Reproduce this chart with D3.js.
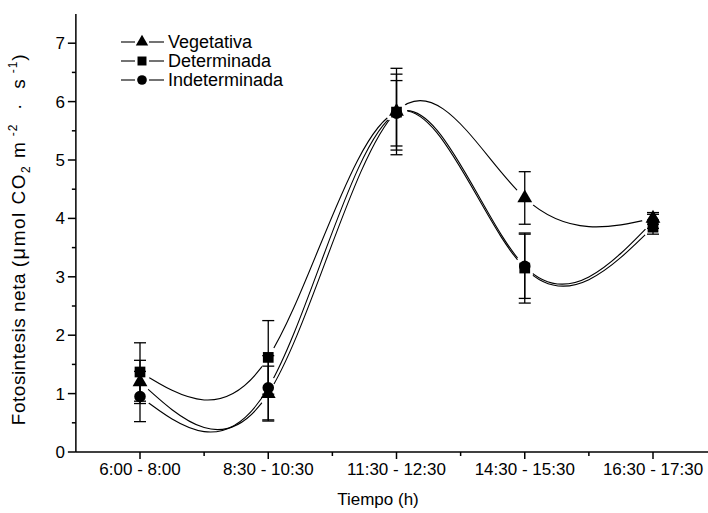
<!DOCTYPE html>
<html>
<head>
<meta charset="utf-8">
<script src="https://cdn.jsdelivr.net/npm/d3@7"></script>
<style>
  html, body { margin: 0; padding: 0; background: #fff; }
  svg { display: block; font-family: "Liberation Sans", Arial, sans-serif; }
  text { white-space: pre; }
</style>
</head>
<body>
<svg id="chart" width="708" height="513"></svg>
<script>
// Time windows along the x axis
const categories = ["6:00 - 8:00", "8:30 - 10:30", "11:30 - 12:30", "14:30 - 15:30", "16:30 - 17:30"];

// Net photosynthesis means and error-bar half widths per phenological stage
const vegetativa     = [1.20, 1.00, 5.83, 4.35, 4.00];
const vegetativaErr  = [0.37, 0.47, 0.74, 0.45, 0.10];
const determinada    = [1.37, 1.62, 5.82, 3.15, 3.85];
const determinadaErr = [0.50, 0.63, 0.65, 0.60, 0.12];
const indeterminada    = [0.95, 1.10, 5.80, 3.18, 3.95];
const indeterminadaErr = [0.43, 0.55, 0.56, 0.55, 0.12];

const yTicks = [0, 1, 2, 3, 4, 5, 6, 7];

const series = [
  { name: "Vegetativa",    values: vegetativa,    err: vegetativaErr,    symbol: d3.symbolTriangle, size: 95 },
  { name: "Determinada",   values: determinada,   err: determinadaErr,   symbol: d3.symbolSquare,   size: 115 },
  { name: "Indeterminada", values: indeterminada, err: indeterminadaErr, symbol: d3.symbolCircle,   size: 105 }
];

const svg = d3.select("#chart");

const x = d3.scaleLinear().domain([1, 5]).range([140, 653]);
const xStart = 0.5;
const y = d3.scaleLinear().domain([0, 7.5]).range([452, 14]);

// Axes
const xAxis = svg.append("g").attr("transform", `translate(0,${y(0)})`);
xAxis.append("line").attr("x1", x(xStart)).attr("x2", 708).attr("stroke", "#000").attr("stroke-width", 1.5);
xAxis.selectAll("line.major").data(d3.range(1, 6)).join("line")
  .attr("class", "major")
  .attr("x1", d => x(d)).attr("x2", d => x(d)).attr("y1", 0).attr("y2", 7)
  .attr("stroke", "#000").attr("stroke-width", 1.5);
xAxis.selectAll("line.minor").data(d3.range(1.5, 5.6, 1)).join("line")
  .attr("class", "minor")
  .attr("x1", d => x(d)).attr("x2", d => x(d)).attr("y1", 0).attr("y2", 4)
  .attr("stroke", "#000").attr("stroke-width", 1.5);
xAxis.selectAll("text").data(categories).join("text")
  .attr("x", (d, i) => x(i + 1)).attr("y", 23)
  .attr("text-anchor", "middle").attr("font-size", 17).attr("fill", "#000")
  .text(d => d);

const yAxis = svg.append("g").attr("transform", `translate(${x(xStart)},0)`);
yAxis.append("line").attr("y1", y(0)).attr("y2", y(7.5)).attr("stroke", "#000").attr("stroke-width", 1.5);
yAxis.selectAll("line.major").data(yTicks).join("line")
  .attr("class", "major")
  .attr("y1", d => y(d)).attr("y2", d => y(d)).attr("x1", 0).attr("x2", -8)
  .attr("stroke", "#000").attr("stroke-width", 1.5);
yAxis.selectAll("line.minor").data(d3.range(0.5, 7.5, 1)).join("line")
  .attr("class", "minor")
  .attr("y1", d => y(d)).attr("y2", d => y(d)).attr("x1", 0).attr("x2", -4)
  .attr("stroke", "#000").attr("stroke-width", 1.5);
yAxis.selectAll("text").data(yTicks).join("text")
  .attr("x", -11).attr("y", d => y(d)).attr("dy", "0.35em")
  .attr("text-anchor", "end").attr("font-size", 17).attr("fill", "#000")
  .text(d => d);

// Axis titles
svg.append("text")
  .attr("x", 378).attr("y", 505)
  .attr("text-anchor", "middle").attr("font-size", 17)
  .text("Tiempo (h)");

const yTitle = svg.append("text")
  .attr("transform", `translate(25,${y(0.46)}) rotate(-90)`)
  .attr("text-anchor", "start").attr("font-size", 19);
yTitle.append("tspan").attr("letter-spacing", 0.5).text("Fotosintesis neta ");
yTitle.append("tspan").attr("letter-spacing", 1.5).text("(");
yTitle.append("tspan").attr("letter-spacing", 1.5).attr("font-size", 20).text("\u03BC");
yTitle.append("tspan").attr("letter-spacing", 1.5).text("mol CO");
yTitle.append("tspan").attr("letter-spacing", 1.5).attr("font-size", 12).attr("dy", 5).text("2");
yTitle.append("tspan").attr("letter-spacing", 1.5).attr("dy", -5).text(" m");
yTitle.append("tspan").attr("letter-spacing", 1).attr("font-size", 12).attr("dy", -8).text(" -2");
yTitle.append("tspan").attr("letter-spacing", 1.5).attr("dy", 8).text("  \u00B7  s");
yTitle.append("tspan").attr("letter-spacing", 1).attr("font-size", 12).attr("dy", -8).text(" -1");
yTitle.append("tspan").attr("dy", 8).text(")");

// Each curve is broken around its own markers
const defs = svg.append("defs");
const line = d3.line()
  .x((d, i) => x(i + 1))
  .y(d => y(d))
  .curve(d3.curveNatural);

series.forEach((s, k) => {
  const mask = defs.append("mask").attr("id", "gap" + k).attr("maskUnits", "userSpaceOnUse")
    .attr("x", 0).attr("y", 0).attr("width", 708).attr("height", 513);
  mask.append("rect").attr("width", 708).attr("height", 513).attr("fill", "#fff");
  mask.selectAll("circle").data(s.values).join("circle")
    .attr("cx", (d, i) => x(i + 1)).attr("cy", d => y(d)).attr("r", 11).attr("fill", "#000");

  svg.append("path")
    .datum(s.values)
    .attr("d", line)
    .attr("fill", "none").attr("stroke", "#000").attr("stroke-width", 1.1)
    .attr("mask", `url(#gap${k})`);
});

// Error bars and markers
series.forEach(s => {
  const g = svg.append("g");
  s.values.forEach((v, i) => {
    const cx = x(i + 1), lo = y(v - s.err[i]), hi = y(v + s.err[i]);
    g.append("line").attr("x1", cx).attr("x2", cx).attr("y1", lo).attr("y2", hi)
      .attr("stroke", "#000").attr("stroke-width", 1.3);
    [lo, hi].forEach(yy => g.append("line")
      .attr("x1", cx - 6).attr("x2", cx + 6).attr("y1", yy).attr("y2", yy)
      .attr("stroke", "#000").attr("stroke-width", 1.3));
  });
  g.selectAll("path").data(s.values).join("path")
    .attr("transform", (d, i) => `translate(${x(i + 1)},${y(d)})`)
    .attr("d", d3.symbol().type(s.symbol).size(s.size))
    .attr("fill", "#000");
});

// Legend
const legend = svg.append("g").attr("transform", "translate(121,42)");
series.forEach((s, k) => {
  const row = legend.append("g").attr("transform", `translate(0,${k * 19})`);
  row.append("line").attr("x1", 0).attr("x2", 14).attr("stroke", "#000").attr("stroke-width", 1.1);
  row.append("line").attr("x1", 28).attr("x2", 43).attr("stroke", "#000").attr("stroke-width", 1.1);
  row.append("path").attr("transform", "translate(21,0)")
    .attr("d", d3.symbol().type(s.symbol).size(s.size * 0.7)).attr("fill", "#000");
  row.append("text").attr("x", 47).attr("dy", "0.36em").attr("font-size", 18).text(s.name);
});
</script>
</body>
</html>
